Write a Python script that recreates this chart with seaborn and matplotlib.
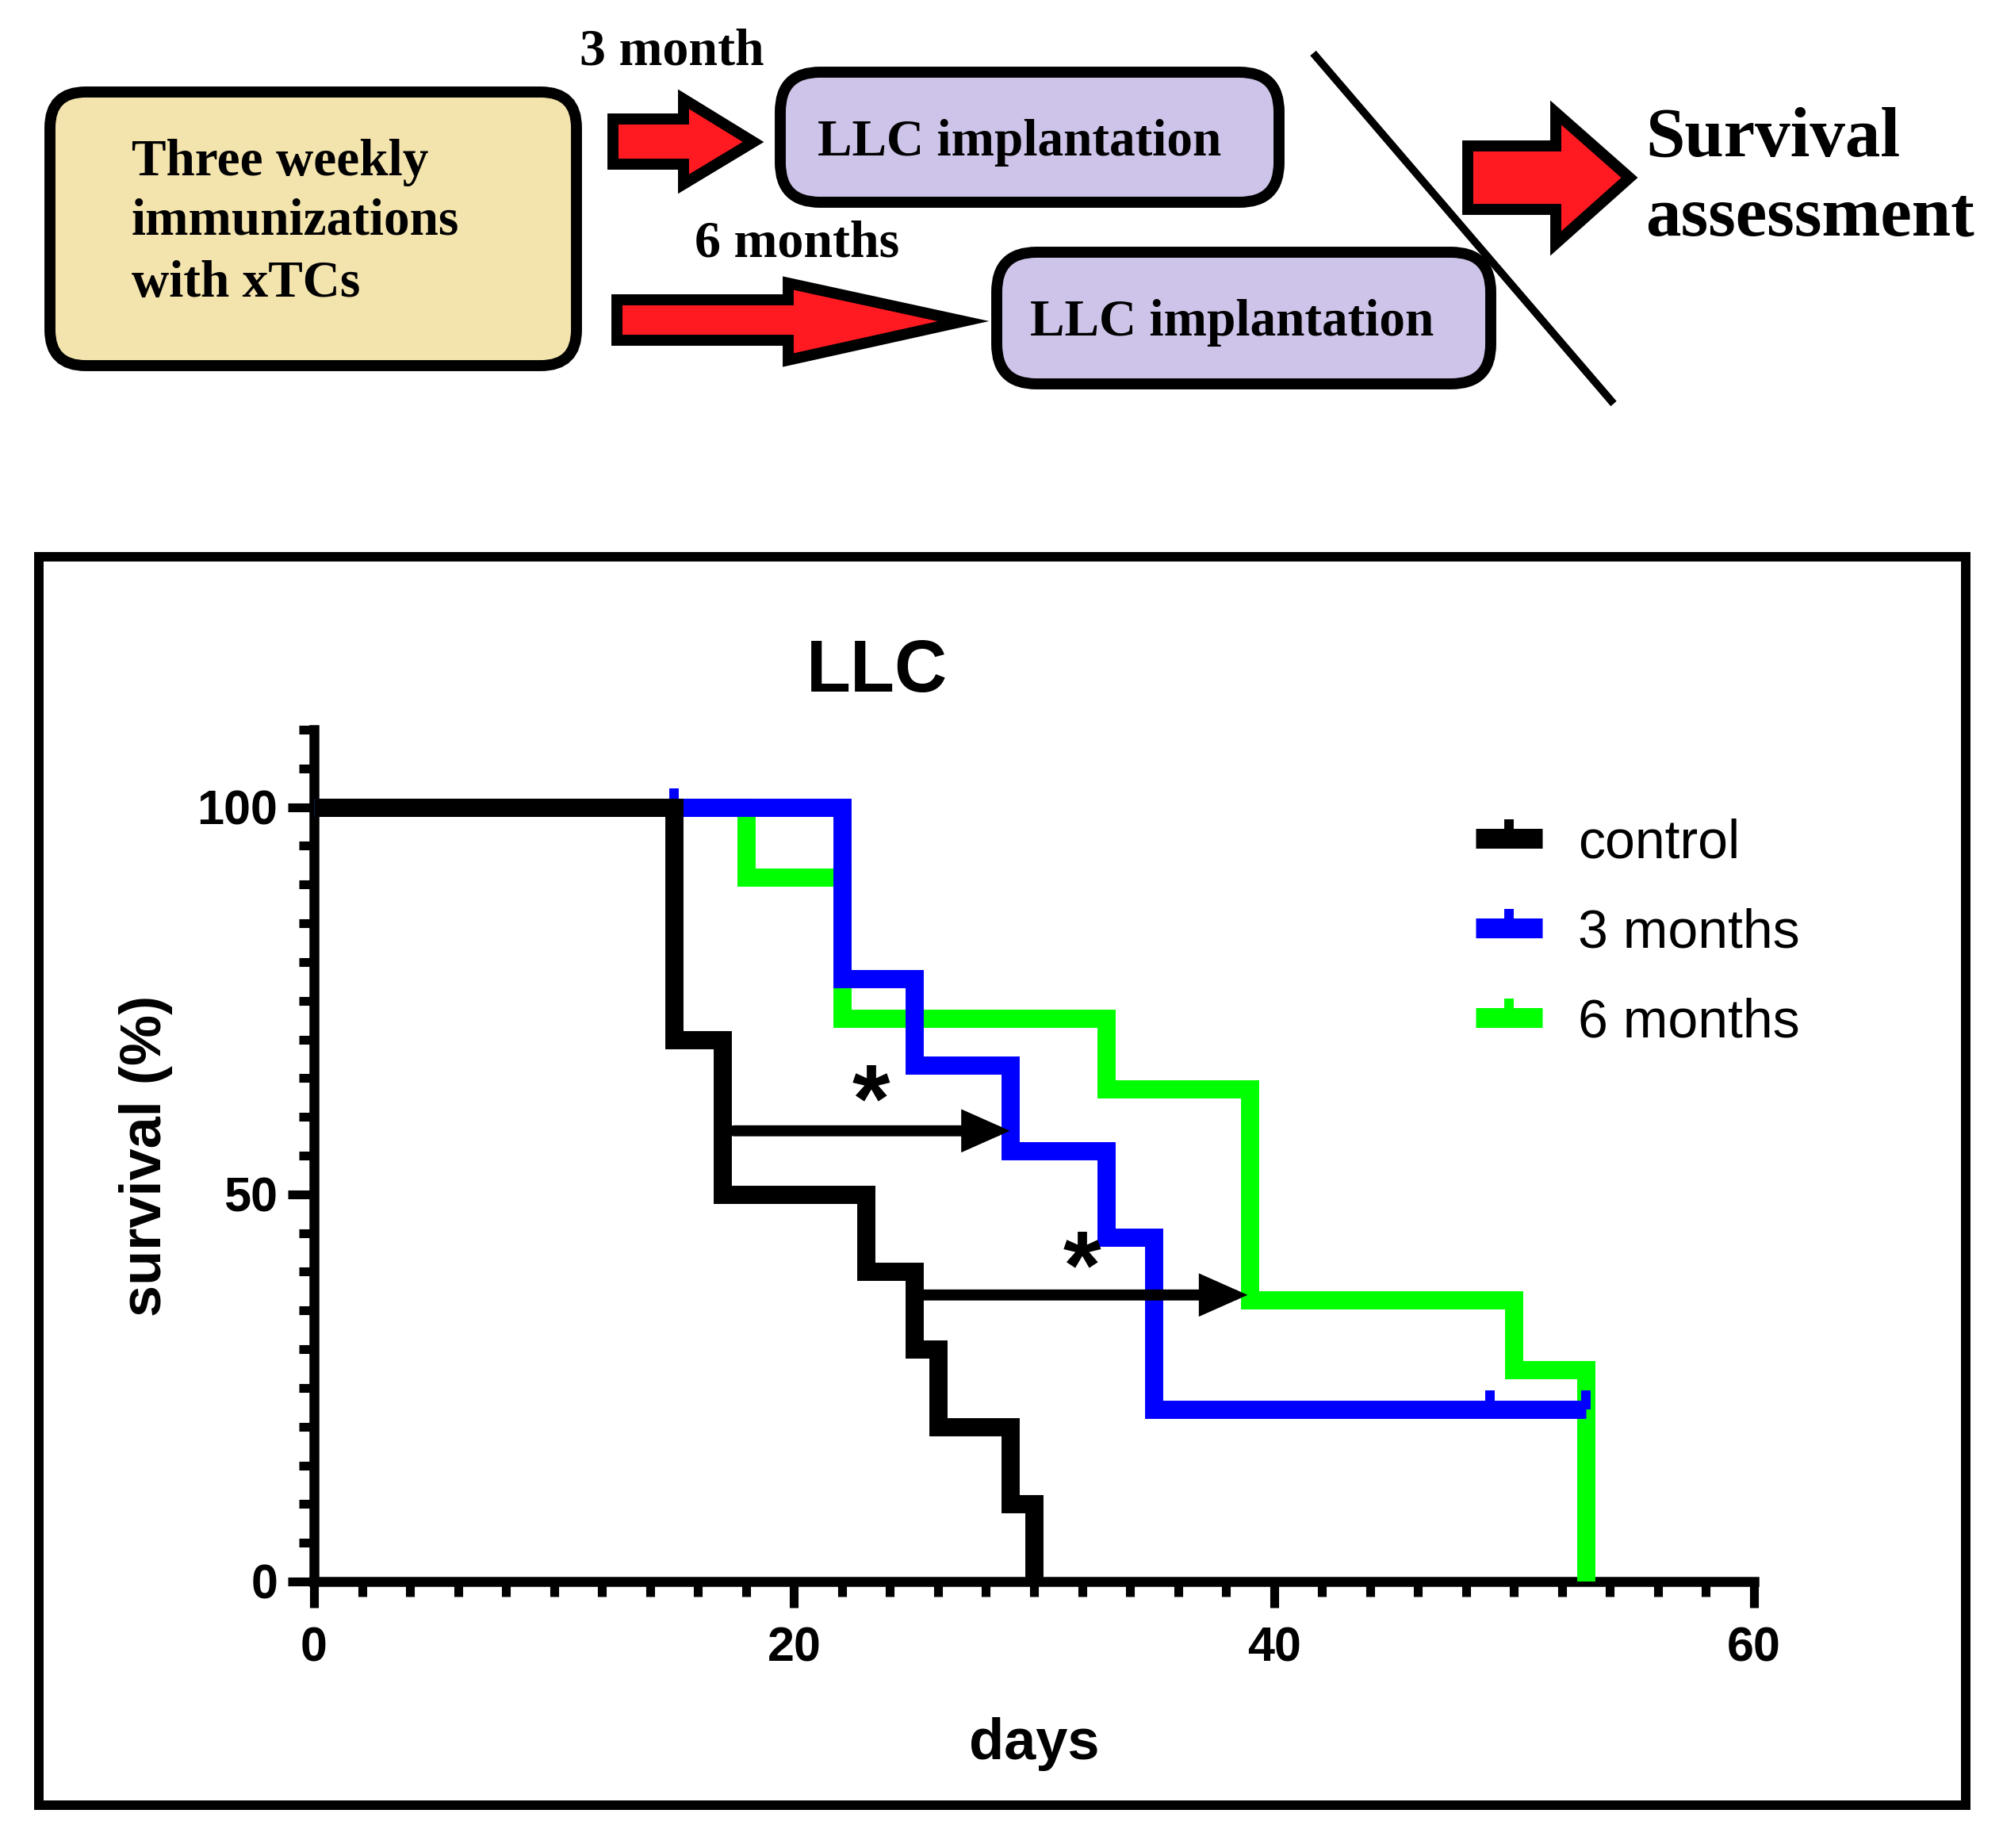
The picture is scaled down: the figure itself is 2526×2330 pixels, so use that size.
import numpy as np
import pandas as pd
import matplotlib
matplotlib.use("Agg")
import matplotlib.pyplot as plt
from matplotlib.patches import FancyBboxPatch, Polygon, Rectangle
from matplotlib.lines import Line2D
from matplotlib.ticker import MultipleLocator
import seaborn as sns

# ── Data ──────────────────────────────────────────────────────────────────────

control_days = [0, 15, 17, 23, 25, 26, 29, 30]
control_surv = [100, 70, 50, 40, 30, 20, 10, 0]

m3_days = [0, 22, 25, 29, 33, 35, 53]
m3_surv = [100, 77.8, 66.7, 55.6, 44.4, 22.2, 22.2]
m3_cens_days = [15, 49, 53]
m3_cens_surv = [100, 22.2, 22.2]

m6_days = [0, 18, 22, 33, 39, 50, 53]
m6_surv = [100, 90.9, 72.7, 63.6, 36.4, 27.3, 0]

group_names = ["control", "3 months", "6 months"]
group_colors = ["#000000", "#0000ff", "#00ff00"]

# significance arrows and stars
arrow_from = [17.5, 25.3]
arrow_to = [29.0, 38.9]
arrow_level = [58.2, 37.0]
star_day = [23.2, 32.0]
star_level = [58.1, 36.6]

df = pd.concat([
    pd.DataFrame({"days": control_days, "survival": control_surv, "group": "control"}),
    pd.DataFrame({"days": m3_days, "survival": m3_surv, "group": "3 months"}),
    pd.DataFrame({"days": m6_days, "survival": m6_surv, "group": "6 months"}),
], ignore_index=True)

# ── Figure ────────────────────────────────────────────────────────────────────

sns.set_theme(style="ticks")
plt.rcParams["font.family"] = ["Liberation Sans", "DejaVu Sans"]
for key in ["text.color", "axes.labelcolor", "xtick.color", "ytick.color", "axes.edgecolor"]:
    plt.rcParams[key] = "black"

W, H = 2526, 2330
fig = plt.figure(figsize=(W / 100, H / 100), dpi=100)

# overlay in pixel coordinates for the schematic and the frame
ov = fig.add_axes([0, 0, 1, 1])
ov.set_xlim(0, W)
ov.set_ylim(H, 0)
ov.axis("off")

serif = dict(family=["Liberation Serif", "DejaVu Serif"], weight="bold", color="black")

ov.add_patch(FancyBboxPatch((63, 116), 664, 345, boxstyle="round,pad=0,rounding_size=45",
                            fc="#f3e3ad", ec="black", lw=10))
ov.add_patch(FancyBboxPatch((984, 91), 629, 164, boxstyle="round,pad=0,rounding_size=50",
                            fc="#cec3e8", ec="black", lw=10))
ov.add_patch(FancyBboxPatch((1257, 318), 623, 166, boxstyle="round,pad=0,rounding_size=50",
                            fc="#cec3e8", ec="black", lw=10))

red = "#ff1a22"
arrows = [
    [(773, 150), (862, 150), (862, 125), (950, 179), (862, 232), (862, 207), (773, 207)],
    [(778, 378), (994, 378), (994, 357), (1215, 405), (994, 454), (994, 429), (778, 429)],
    [(1851, 184), (1962, 184), (1962, 142), (2055, 224), (1962, 307), (1962, 264), (1851, 264)],
]
for pts in arrows:
    ov.add_patch(Polygon(pts, closed=True, fc=red, ec="black", lw=10, joinstyle="miter"))

ov.plot([1656, 2035], [67, 509], color="black", lw=7, solid_capstyle="butt")

ov.text(166, 221, "Three weekly", fontsize=47, ha="left", va="baseline", **serif)
ov.text(166, 296, "immunizations", fontsize=47, ha="left", va="baseline", **serif)
ov.text(166, 374, "with xTCs", fontsize=47, ha="left", va="baseline", **serif)
ov.text(1286, 196, "LLC implantation", fontsize=47, ha="center", va="baseline", **serif)
ov.text(1554, 423, "LLC implantation", fontsize=47, ha="center", va="baseline", **serif)
ov.text(731, 82, "3 month", fontsize=47.5, ha="left", va="baseline", **serif)
ov.text(876, 323, "6 months", fontsize=47.5, ha="left", va="baseline", **serif)
ov.text(2075, 197, "Survival", fontsize=64, ha="left", va="baseline", **serif)
ov.text(2075, 296, "assessment", fontsize=64, ha="left", va="baseline", **serif)

# frame around the survival plot
ov.add_patch(Rectangle((49, 702), 2430, 1574, fill=False, ec="black", lw=8.6, joinstyle="miter"))

# ── Survival plot ─────────────────────────────────────────────────────────────

ax = fig.add_axes([396 / W, 1 - 1994 / H, 1816 / W, (1994 - 920) / H])
ax.set_facecolor("none")

tick = [(0, 0), (0, 1)]
draw_order = [2, 1, 0]
for i in draw_order:
    sub = df[df["group"] == group_names[i]]
    sns.lineplot(data=sub, x="days", y="survival", ax=ax, color=group_colors[i],
                 drawstyle="steps-post", lw=16.5, estimator=None, sort=False,
                 solid_joinstyle="miter", solid_capstyle="butt", zorder=3 + (2 - i))
ax.plot(m3_cens_days, m3_cens_surv, ls="none", marker=tick, ms=34, mew=8.6,
        color=group_colors[1], zorder=4)

for x0, x1, lv in zip(arrow_from, arrow_to, arrow_level):
    ax.annotate("", xy=(x1, lv), xytext=(x0, lv),
                arrowprops=dict(arrowstyle="-|>,head_length=2.7,head_width=1.2",
                                mutation_scale=10, lw=10, color="black",
                                shrinkA=0, shrinkB=0, joinstyle="miter"), zorder=6)
for sx, sy in zip(star_day, star_level):
    ax.text(sx, sy, "*", fontsize=88, fontweight="bold", ha="center", va="baseline", zorder=6)

ax.set_xlim(0, 60)
ax.set_ylim(0, 110)
ax.xaxis.set_major_locator(MultipleLocator(20))
ax.xaxis.set_minor_locator(MultipleLocator(2))
ax.yaxis.set_major_locator(MultipleLocator(50))
ax.yaxis.set_minor_locator(MultipleLocator(5))
sns.despine(ax=ax)
for s in ["left", "bottom"]:
    ax.spines[s].set_linewidth(9)
    ax.spines[s].set_capstyle("projecting")
ax.tick_params(which="major", length=24, width=8, labelsize=44, color="black")
ax.tick_params(which="minor", length=14, width=8, color="black")
ax.tick_params(axis="x", which="major", pad=17)
ax.tick_params(axis="y", which="major", pad=9)
for lab in ax.get_xticklabels() + ax.get_yticklabels():
    lab.set_fontweight("bold")

ax.set_xlabel("days", fontsize=52, fontweight="bold", labelpad=41)
ax.set_ylabel("survival (%)", fontsize=52, fontweight="bold", labelpad=22)

fig.text(1106 / W, 1 - 872 / H, "LLC", fontsize=66, fontweight="bold",
         ha="center", va="baseline")

handles = [Line2D([0], [0], color=c, lw=18, marker=tick, ms=35, mew=8.6,
                  solid_capstyle="butt") for c in group_colors]
fig.legend(handles, group_names, loc="upper left",
           bbox_to_anchor=(1861 / W, 1 - 1031 / H), frameon=False, fontsize=49,
           borderpad=0, borderaxespad=0, handlelength=1.24, handletextpad=0.66,
           labelspacing=0.72, numpoints=1)

fig.savefig("out.png", dpi=100, facecolor="white")
